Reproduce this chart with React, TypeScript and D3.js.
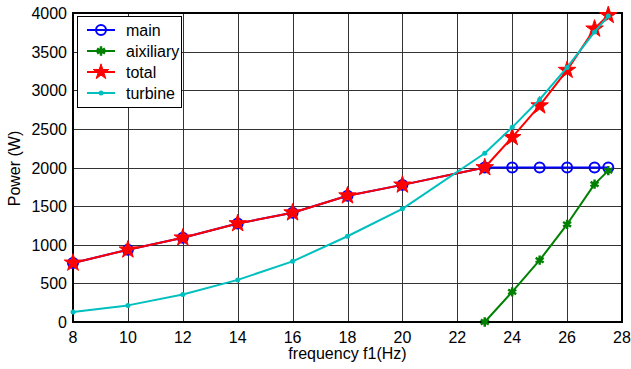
import React, { useEffect, useRef } from 'react'
import * as d3 from 'd3'

const freqLow = [8, 10, 12, 14, 16, 18, 20, 23, 24, 25, 26, 27, 27.5]
const mainPower = [765, 935, 1090, 1275, 1415, 1635, 1775, 2000, 2000, 2000, 2000, 2000, 2000]
const totalPower = [765, 935, 1090, 1275, 1415, 1635, 1775, 2000, 2390, 2800, 3260, 3795, 3970]
const turbinePower = [130, 215, 355, 545, 785, 1110, 1465, 2185, 2520, 2880, 3295, 3755, 3960]
const auxFreq = [23, 24, 25, 26, 27, 27.5]
const auxPower = [0, 390, 800, 1265, 1785, 1960]
const xTicks = [8, 10, 12, 14, 16, 18, 20, 22, 24, 26, 28]
const yTicks = [0, 500, 1000, 1500, 2000, 2500, 3000, 3500, 4000]

const FONT = '"Liberation Sans", Arial, Helvetica, sans-serif'

const App = () => {
  const ref = useRef(null)

  useEffect(() => {
    draw()
  }, [])

  const draw = () => {
    const el = ref.current
    d3.select(el).selectAll('*').remove()
    const left = 73, right = 622, top = 13, bottom = 322
    const svg = d3.select(el).append('svg')
      .attr('width', 631)
      .attr('height', 369)
      .style('display', 'block')
      .style('font-family', FONT)

    const x = d3.scaleLinear().domain([8, 28]).range([left, right])
    const y = d3.scaleLinear().domain([0, 4000]).range([bottom, top])

    svg.append('rect')
      .attr('width', 631).attr('height', 369).attr('fill', '#fff')

    // grid
    const grid = svg.append('g').attr('stroke', '#333').attr('stroke-width', 1)
    grid.selectAll('line.v').data(xTicks).enter().append('line')
      .attr('x1', d => Math.round(x(d)) + 0.5).attr('x2', d => Math.round(x(d)) + 0.5)
      .attr('y1', top).attr('y2', bottom)
    grid.selectAll('line.h').data(yTicks).enter().append('line')
      .attr('y1', d => Math.round(y(d)) + 0.5).attr('y2', d => Math.round(y(d)) + 0.5)
      .attr('x1', left).attr('x2', right)

    svg.append('rect')
      .attr('x', left).attr('y', top)
      .attr('width', right - left).attr('height', bottom - top)
      .attr('fill', 'none').attr('stroke', '#000').attr('stroke-width', 2)

    // tick labels
    svg.append('g').selectAll('text').data(xTicks).enter().append('text')
      .attr('x', d => x(d)).attr('y', 343)
      .attr('text-anchor', 'middle').attr('font-size', 16)
      .text(d => d)
    svg.append('g').selectAll('text').data(yTicks).enter().append('text')
      .attr('x', 67).attr('y', d => y(d) + 6)
      .attr('text-anchor', 'end').attr('font-size', 16)
      .text(d => d)

    svg.append('text')
      .attr('x', (left + right) / 2).attr('y', 359)
      .attr('text-anchor', 'middle').attr('font-size', 16)
      .text('frequency f1(Hz)')
    svg.append('text')
      .attr('transform', `translate(20, ${(top + bottom) / 2 + 1}) rotate(-90)`)
      .attr('text-anchor', 'middle').attr('font-size', 16)
      .text('Power (W)')

    const line = d3.line<[number, number]>().x(d => x(d[0])).y(d => y(d[1]))
    const star = d3.symbol().type(d3.symbolStar).size(95)
    const starLeg = d3.symbol().type(d3.symbolStar).size(75)
    const aster = d3.symbol().type(d3.symbolAsterisk).size(60)

    const series = [
      { name: 'main', xs: freqLow, ys: mainPower, color: '#0000ff', marker: 'circle' },
      { name: 'aixiliary', xs: auxFreq, ys: auxPower, color: '#008000', marker: 'aster' },
      { name: 'total', xs: freqLow, ys: totalPower, color: '#ff0000', marker: 'star' },
      { name: 'turbine', xs: freqLow, ys: turbinePower, color: '#00bfbf', marker: 'dot' },
    ]

    const addMarker = (g, marker, color, px, py, legend) => {
      if (marker === 'circle') {
        g.append('circle').attr('cx', px).attr('cy', py).attr('r', 5)
          .attr('fill', 'none').attr('stroke', color).attr('stroke-width', 2)
      } else if (marker === 'star') {
        g.append('path').attr('d', legend ? starLeg() : star())
          .attr('transform', `translate(${px},${py})`)
          .attr('fill', color).attr('stroke', color).attr('stroke-width', 1)
      } else if (marker === 'aster') {
        g.append('path').attr('d', aster())
          .attr('transform', `translate(${px},${py})`)
          .attr('fill', 'none').attr('stroke', color).attr('stroke-width', 2.5)
      } else {
        g.append('circle').attr('cx', px).attr('cy', py).attr('r', 2.5).attr('fill', color)
      }
    }

    series.forEach(s => {
      const pts = s.xs.map((v, i) => [v, s.ys[i]] as [number, number])
      const g = svg.append('g')
      g.append('path').attr('d', line(pts))
        .attr('fill', 'none').attr('stroke', s.color).attr('stroke-width', 2)
        .attr('stroke-linejoin', 'round')
      pts.forEach(p => addMarker(g, s.marker, s.color, x(p[0]), y(p[1]), false))
    })

    // legend
    const lg = svg.append('g')
    lg.append('rect')
      .attr('x', 77.5).attr('y', 16.5).attr('width', 104).attr('height', 91)
      .attr('fill', '#fff').attr('stroke', '#000').attr('stroke-width', 1)
    series.forEach((s, i) => {
      const ly = 30 + i * 21
      lg.append('line').attr('x1', 87).attr('x2', 115).attr('y1', ly).attr('y2', ly)
        .attr('stroke', s.color).attr('stroke-width', 2)
      addMarker(lg, s.marker, s.color, 101, ly, true)
      lg.append('text').attr('x', 126).attr('y', ly + 5.5)
        .attr('font-size', 16).text(s.name)
    })
  }

  return (
    <div style={{ position: 'absolute', left: 0, top: 0 }}>
      <div ref={ref}></div>
    </div>
  )
}

export default App
